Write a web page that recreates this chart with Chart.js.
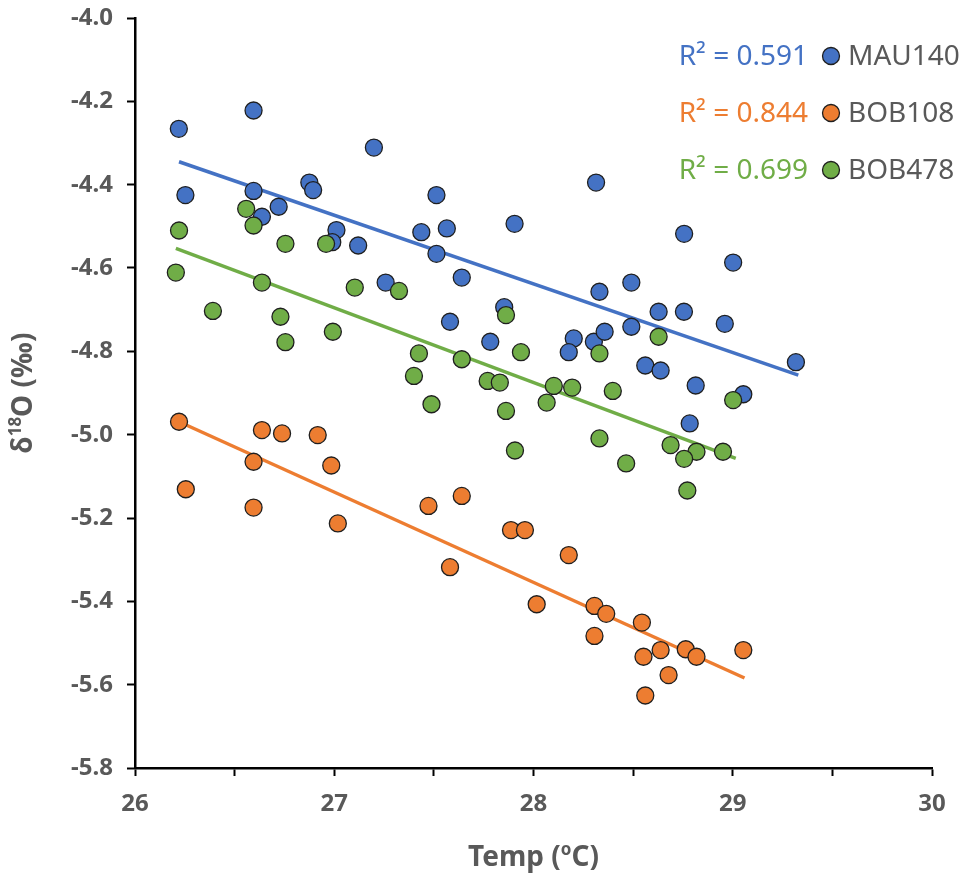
<!DOCTYPE html>
<html><head><meta charset="utf-8">
<script src="https://cdn.jsdelivr.net/npm/chart.js@4.4.1/dist/chart.umd.min.js"></script>
<style>html,body{margin:0;padding:0;background:#fff;}canvas{display:block;}</style>
</head><body>
<canvas id="c" width="966" height="874" style="width:966px;height:874px"></canvas>
<script>
// ---- data ----
const seriesNames = ['MAU140', 'BOB108', 'BOB478'];
const r2Labels = ['R\u00B2 = 0.591', 'R\u00B2 = 0.844', 'R\u00B2 = 0.699'];
const xTicks = [26, 27, 28, 29, 30];
const yTicks = [-5.8, -5.6, -5.4, -5.2, -5.0, -4.8, -4.6, -4.4, -4.2, -4.0];

const mauX = [26.22, 26.595, 27.199, 26.253, 26.595, 26.875, 26.894, 26.721, 26.637, 27.011,
  26.99, 27.12, 27.258, 28.314, 27.513, 27.437, 27.565, 27.905, 27.513, 27.64,
  28.331, 28.491, 27.853, 27.581, 27.783, 28.202, 28.177, 28.303, 28.357, 28.491,
  28.628, 28.755, 28.561, 28.638, 28.756, 29.002, 28.96, 29.317, 28.814, 29.053, 28.784];
const mauY = [-4.266, -4.222, -4.311, -4.425, -4.415, -4.395, -4.413, -4.453, -4.477, -4.509,
  -4.538, -4.546, -4.635, -4.395, -4.425, -4.514, -4.505, -4.494, -4.566, -4.623,
  -4.657, -4.635, -4.694, -4.729, -4.777, -4.769, -4.802, -4.777, -4.753, -4.741,
  -4.705, -4.705, -4.834, -4.846, -4.518, -4.587, -4.734, -4.826, -4.882, -4.903, -4.973];

const bob108X = [26.221, 26.637, 26.738, 26.917, 26.595, 26.985, 26.255, 26.595, 27.018,
  27.473, 27.64, 27.887, 27.957, 27.581, 28.177, 28.016, 28.306, 28.365, 28.306,
  28.544, 28.552, 28.638, 28.764, 28.818, 29.053, 28.678, 28.561];
const bob108Y = [-4.969, -4.989, -4.997, -5.001, -5.065, -5.074, -5.131, -5.175, -5.213,
  -5.171, -5.147, -5.229, -5.229, -5.318, -5.289, -5.407, -5.411, -5.43, -5.483,
  -5.451, -5.533, -5.517, -5.515, -5.533, -5.517, -5.577, -5.626];

const bob478X = [26.558, 26.595, 26.221, 26.755, 26.959, 26.205, 26.637, 27.103, 27.325, 26.391,
  26.73, 26.755, 26.993, 27.4, 27.862, 27.425, 27.64, 27.937, 28.331, 28.628,
  27.488, 27.77, 27.831, 28.102, 28.194, 28.398, 28.066, 27.862, 27.907, 28.331,
  28.465, 28.688, 28.818, 28.756, 28.951, 28.772, 29.002];
const bob478Y = [-4.458, -4.498, -4.51, -4.542, -4.542, -4.611, -4.635, -4.647, -4.655, -4.703,
  -4.717, -4.778, -4.753, -4.859, -4.713, -4.805, -4.819, -4.802, -4.805, -4.765,
  -4.927, -4.871, -4.875, -4.883, -4.887, -4.895, -4.923, -4.943, -5.038, -5.009,
  -5.069, -5.025, -5.041, -5.058, -5.041, -5.134, -4.917];

// trendline end points
const trendMauX = [26.221, 29.329];
const trendMauY = [-4.345, -4.857];
const trend108X = [26.221, 29.059];
const trend108Y = [-4.969, -5.584];
const trend478X = [26.205, 29.015];
const trend478Y = [-4.553, -5.057];

// ---- styling ----
const COLORS = ['#4472C4', '#ED7D31', '#70AD47'];
const GREY = '#595959';
const FONT = "'Noto Sans', 'DejaVu Sans', sans-serif";

const pts = (xs, ys) => xs.map((x, i) => ({x: x, y: ys[i]}));

function scatterDS(label, xs, ys, color, order) {
  return {type: 'scatter', label: label, data: pts(xs, ys), backgroundColor: color,
    borderColor: '#1f1f1f', borderWidth: 1.3, pointRadius: 8.5, pointHoverRadius: 8.5, order: order};
}
function trendDS(label, xs, ys, color, order) {
  return {type: 'line', label: label, data: pts(xs, ys), borderColor: color, borderWidth: 3.5,
    pointRadius: 0, fill: false, tension: 0, order: order};
}

function drawRich(ctx, parts, x, y, align) {
  let w = 0;
  parts.forEach(p => { ctx.font = p.font; w += ctx.measureText(p.t).width; });
  let cx = align === 'right' ? x - w : (align === 'center' ? x - w / 2 : x);
  parts.forEach(p => {
    ctx.font = p.font; ctx.fillStyle = p.color; ctx.textAlign = 'left'; ctx.textBaseline = 'alphabetic';
    ctx.fillText(p.t, cx, y + (p.dy || 0));
    cx += ctx.measureText(p.t).width;
  });
}

const annotPlugin = {
  id: 'annot',
  afterDraw(chart) {
    const ctx = chart.ctx;
    ctx.save();
    // legend with R² values
    const rowsY = [57, 114, 171];
    for (let i = 0; i < 3; i++) {
      const y = rowsY[i];
      ctx.font = '28px ' + FONT;
      ctx.fillStyle = COLORS[i]; ctx.textAlign = 'right'; ctx.textBaseline = 'middle';
      ctx.fillText(r2Labels[i], 808, y);
      ctx.beginPath(); ctx.arc(831, y - 1, 8.5, 0, Math.PI * 2);
      ctx.fillStyle = COLORS[i]; ctx.fill();
      ctx.lineWidth = 1.3; ctx.strokeStyle = '#1f1f1f'; ctx.stroke();
      ctx.fillStyle = GREY; ctx.textAlign = 'left';
      ctx.fillText(seriesNames[i], 848, y);
    }
    // x axis title
    const ca = chart.chartArea;
    const bold = s => 'bold ' + s + 'px ' + FONT;
    drawRich(ctx, [
      {t: 'Temp (', font: bold(28), color: GREY},
      {t: 'o', font: bold(17), color: GREY, dy: -11},
      {t: 'C)', font: bold(28), color: GREY}
    ], (ca.left + ca.right) / 2, 866, 'center');
    // y axis title
    ctx.save();
    ctx.translate(32, (ca.top + ca.bottom) / 2);
    ctx.rotate(-Math.PI / 2);
    drawRich(ctx, [
      {t: '\u03B4', font: bold(28), color: GREY},
      {t: '18', font: bold(17), color: GREY, dy: -11},
      {t: 'O (\u2030)', font: bold(28), color: GREY}
    ], 0, 0, 'center');
    ctx.restore();
    ctx.restore();
  }
};

new Chart(document.getElementById('c'), {
  data: {
    datasets: [
      scatterDS(seriesNames[2], bob478X, bob478Y, COLORS[2], 1),
      scatterDS(seriesNames[1], bob108X, bob108Y, COLORS[1], 2),
      scatterDS(seriesNames[0], mauX, mauY, COLORS[0], 3),
      trendDS('trend ' + seriesNames[2], trend478X, trend478Y, COLORS[2], 4),
      trendDS('trend ' + seriesNames[1], trend108X, trend108Y, COLORS[1], 5),
      trendDS('trend ' + seriesNames[0], trendMauX, trendMauY, COLORS[0], 6)
    ]
  },
  options: {
    responsive: false, animation: false, devicePixelRatio: 1,
    layout: {padding: {top: 18, right: 34, left: 0, bottom: 0}},
    plugins: {legend: {display: false}, tooltip: {enabled: false}},
    scales: {
      x: {
        type: 'linear', min: xTicks[0], max: xTicks[xTicks.length - 1],
        afterBuildTicks: s => {
          const t = [];
          for (let i = 0; i < xTicks.length; i++) {
            t.push({value: xTicks[i]});
            if (i < xTicks.length - 1) t.push({value: (xTicks[i] + xTicks[i + 1]) / 2});
          }
          s.ticks = t;
        },
        ticks: {
          autoSkip: false, maxRotation: 0, padding: 14, color: GREY,
          font: {family: FONT, size: 24, weight: 'bold'},
          callback: v => (xTicks.includes(v) ? String(v) : '')
        },
        grid: {display: true, drawOnChartArea: false, drawTicks: true, tickLength: 8, tickColor: '#000', tickWidth: 2},
        border: {display: true, color: '#000', width: 2.5},
        afterFit: s => { s.height = 106; s.paddingLeft = 0; s.paddingRight = 0; }
      },
      y: {
        type: 'linear', min: yTicks[0], max: yTicks[yTicks.length - 1],
        afterBuildTicks: s => { s.ticks = yTicks.map(v => ({value: v})); },
        ticks: {
          autoSkip: false, padding: 14, color: GREY,
          font: {family: FONT, size: 24, weight: 'bold'},
          callback: v => Number(v).toFixed(1)
        },
        grid: {display: true, drawOnChartArea: false, drawTicks: true, tickLength: 8, tickColor: '#000', tickWidth: 2},
        border: {display: true, color: '#000', width: 2.5},
        afterFit: s => { s.width = 135; s.paddingTop = 0; s.paddingBottom = 0; }
      }
    }
  },
  plugins: [annotPlugin]
});
</script>
</body></html>
